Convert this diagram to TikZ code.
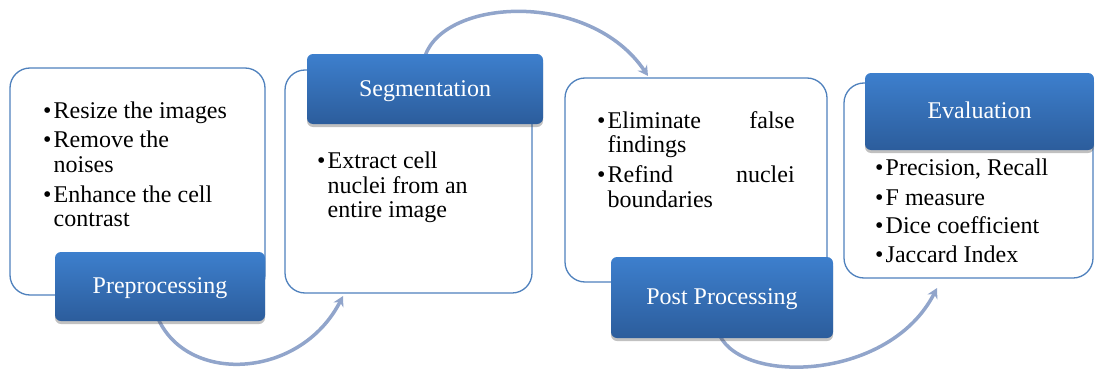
\documentclass[tikz,border=0pt]{standalone}
\usepackage{fontspec}
\setmainfont{Liberation Serif}
\usetikzlibrary{shadows,arrows.meta}
\definecolor{edgeblue}{RGB}{79,129,189}
\definecolor{titletop}{RGB}{61,127,205}
\definecolor{titlebot}{RGB}{44,93,156}
\definecolor{arrowcol}{RGB}{145,165,203}
\newcommand{\bul}{\makebox[10.5pt][l]{\textbullet}}
\begin{document}
\begin{tikzpicture}[x=1pt,y=-1pt,
  panel/.style={draw=edgeblue, line width=1.3pt, fill=white, rounded corners=20pt, inner sep=0pt},
  titlebox/.style={rounded corners=6pt, top color=titletop, bottom color=titlebot, text=white,
    font=\fontsize{24}{24}\selectfont, inner sep=0pt, text height=18pt, text depth=4pt,
    drop shadow={shadow xshift=0pt, shadow yshift=-3pt, opacity=0.35, fill=black!70}},
  txt/.style={anchor=base west, inner sep=0pt, font=\fontsize{24}{24}\selectfont},
  flow/.style={draw=arrowcol, line width=3.5pt, -{Stealth[length=10pt,width=11pt]}}]
\useasboundingbox (0,0) rectangle (1095,372);
% connectors (behind boxes)
\coordinate (a1s) at (157,316);
\coordinate (a1e) at (343,296);
\coordinate (a2s) at (425,56);
\coordinate (a2e) at (648,76);
\coordinate (a3s) at (720,336);
\coordinate (a3e) at (937,288);
\draw[flow] (a1s) .. controls (185,385) and (300,380) .. (a1e);
\draw[flow] (a2s) .. controls (445,-2) and (590,-10) .. (a2e);
\draw[flow] (a3s) .. controls (745,385) and (890,380) .. (a3e);
% panels
\node[panel, minimum width=255pt, minimum height=227pt] (b1) at (137.5,181.5) {};
\node[panel, minimum width=247pt, minimum height=223pt] (b2) at (408.5,181.5) {};
\node[panel, minimum width=262pt, minimum height=204pt] (b3) at (696,180) {};
\node[panel, minimum width=249pt, minimum height=195pt] (b4) at (968.5,180.5) {};
% titles
\node[titlebox, minimum width=210pt, minimum height=69pt] (t1) at (160,286.5) {Preprocessing};
\node[titlebox, minimum width=236pt, minimum height=70pt] (t2) at (425,89) {Segmentation};
\node[titlebox, minimum width=222pt, minimum height=81pt] (t3) at (722,297.5) {Post Processing};
\node[titlebox, minimum width=229pt, minimum height=77pt] (t4) at (979.5,111.5) {Evaluation};
% box 1 text
\node[txt] (l11) at (43,118) {\bul Resize the images};
\node[txt] (l12) at (43,147) {\bul Remove the};
\node[txt] (l13) at (53.5,172) {noises};
\node[txt] (l14) at (43,202) {\bul Enhance the cell};
\node[txt] (l15) at (53.5,226) {contrast};
% box 2 text
\node[txt] (l21) at (317,168) {\bul Extract cell};
\node[txt] (l22) at (327.5,193) {nuclei from an};
\node[txt] (l23) at (327.5,217) {entire image};
% box 3 text
\node[txt] (l31) at (597,128) {\bul\hbox to 187pt{Eliminate\hfill false}};
\node[txt] (l32) at (607.5,152) {findings};
\node[txt] (l33) at (597,182) {\bul\hbox to 187pt{Refind\hfill nuclei}};
\node[txt] (l34) at (607.5,207) {boundaries};
% box 4 text
\node[txt] (l41) at (875,175) {\bul Precision, Recall};
\node[txt] (l42) at (875,205) {\bul F measure};
\node[txt] (l43) at (875,233) {\bul Dice coefficient};
\node[txt] (l44) at (875,262) {\bul Jaccard Index};
\end{tikzpicture}
\end{document}
